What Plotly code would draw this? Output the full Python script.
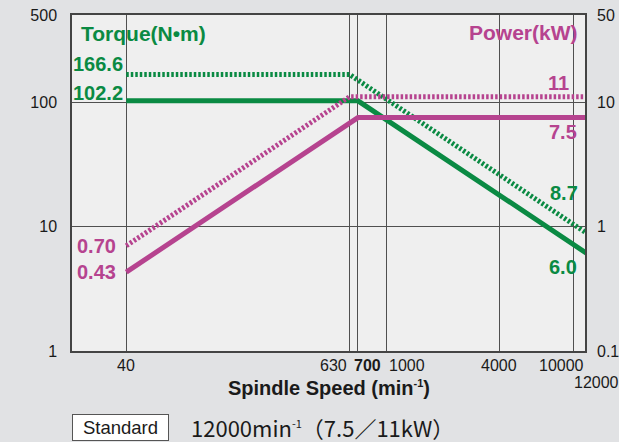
import math
import plotly.graph_objects as go

# ---- data ----
speed_torque_cont = [40, 700, 12000]
torque_cont = [102.2, 102.2, 6.0]
speed_torque_max = [40, 630, 12000]
torque_max = [166.6, 166.6, 8.7]

speed_power_cont = [40, 700, 12000]
power_cont = [0.43, 7.5, 7.5]
speed_power_max = [40, 630, 12000]
power_max = [0.70, 11, 11]

x_grid = [40, 630, 700, 1000, 4000, 10000]
y_ticks = [1, 10, 100, 500]
y2_ticks = [0.1, 1, 10, 50]

GREEN = "#0a8a43"
MAGENTA = "#b6438f"
GRID = "#505050"
FONT = "Liberation Sans"
DOT = "2.5px,2px"

fig = go.Figure()

fig.add_trace(go.Scatter(x=speed_power_max, y=power_max, yaxis="y2", mode="lines",
                         line=dict(color=MAGENTA, width=5, dash=DOT)))
fig.add_trace(go.Scatter(x=speed_power_cont, y=power_cont, yaxis="y2", mode="lines",
                         line=dict(color=MAGENTA, width=5)))
fig.add_trace(go.Scatter(x=speed_torque_max, y=torque_max, mode="lines",
                         line=dict(color=GREEN, width=5, dash=DOT)))
fig.add_trace(go.Scatter(x=speed_torque_cont, y=torque_cont, mode="lines",
                         line=dict(color=GREEN, width=5)))

ann = []
L = math.log10


def lab(text, x, y, xref, yref, xanchor, xshift, yshift, color, size=19, bold=True, family=FONT):
    t = f"<b>{text}</b>" if bold else text
    ann.append(dict(text=t, x=x, y=y, xref=xref, yref=yref, xanchor=xanchor, yanchor="middle",
                    xshift=xshift, yshift=yshift, showarrow=False,
                    font=dict(color=color, size=size, family=family)))


# value labels
lab("166.6", L(40), L(torque_max[0]), "x", "y", "right", -1, 10, GREEN, size=20)
lab("102.2", L(40), L(torque_cont[0]), "x", "y", "right", -1, 8, GREEN, size=20)
lab("0.70", L(40), L(power_max[0]), "x", "y2", "right", -8, 0, MAGENTA, size=20)
lab("0.43", L(40), L(power_cont[0]), "x", "y2", "right", -8, 0, MAGENTA, size=20)
lab("11", 1, L(power_max[-1]), "paper", "y2", "right", -14, 14, MAGENTA, size=20)
lab("7.5", 1, L(power_cont[-1]), "paper", "y2", "right", -6, -14, MAGENTA, size=20)
lab("8.7", 1, L(torque_max[-1]), "paper", "y", "right", -5, 41, GREEN, size=20)
lab("6.0", 1, L(torque_cont[-1]), "paper", "y", "right", -6, -13, GREEN, size=20)

# titles inside plot
lab("Torque(N•m)", 0, 0.946, "paper", "paper", "left", 7, 0, GREEN, size=21)
lab("Power(kW)", 1, 0.949, "paper", "paper", "right", -5, 0, MAGENTA, size=21)

# x tick labels
xt = [("40", L(40), "x", "center", 0, -14, False),
      ("630", L(630), "x", "right", 0, -14, False),
      ("700", L(700), "x", "left", -6, -14, True),
      ("1000", L(1000), "x", "left", 0, -14, False),
      ("4000", L(4000), "x", "center", 0, -14, False),
      ("10000", L(10000), "x", "center", -12, -14, False),
      ("12000", 1, "paper", "center", 11, -31, False)]
for t, v, xr, xa, xs, ys, b in xt:
    lab(t, v, 0, xr, "paper", xa, xs, ys, "#1a1a1a", size=16, bold=b)

SUP = "<sup><span style='font-size:11px'>-1</span></sup>"

# axis title
lab(f"Spindle Speed (min{SUP})", 0.5, 0, "paper", "paper", "center", 0, -37, "#1a1a1a", size=20)

# bottom caption
ann.append(dict(text="Standard", x=0.0945, y=-0.2277, xref="paper", yref="paper",
                xanchor="center", yanchor="middle", showarrow=False,
                font=dict(size=18.5, color="#1a1a1a", family=FONT),
                bgcolor="white", bordercolor="#555", borderwidth=1,
                width=93, height=23))
lab(f"12000min{SUP}（7.5／11kW）", 0.2305, -0.2300, "paper", "paper", "left", -1, 1,
    "#1a1a1a", size=22, bold=False, family="Noto Sans CJK JP")

fig.update_layout(
    width=619, height=442,
    margin=dict(l=72, r=34, t=15, b=91, autoexpand=False),
    paper_bgcolor="#e1e2e4",
    plot_bgcolor="#efefef",
    showlegend=False,
    annotations=ann,
    xaxis=dict(type="log", range=[1.3109, 4.0632], tickvals=x_grid, showticklabels=False,
               showgrid=True, gridcolor=GRID, gridwidth=1, zeroline=False, automargin=False,
               showline=True, linecolor="#444", linewidth=1.5, mirror=True, ticks=""),
    yaxis=dict(type="log", range=[0, L(500)], tickvals=y_ticks, ticktext=[str(v) for v in y_ticks],
               showgrid=True, gridcolor=GRID, gridwidth=1, zeroline=False, automargin=False,
               showline=True, linecolor="#444", linewidth=1.5, mirror=True, ticks="",
               ticklabelstandoff=10,
               tickfont=dict(size=16, color="#1a1a1a", family=FONT)),
    yaxis2=dict(type="log", range=[-1, L(50)], overlaying="y", side="right",
                tickvals=y2_ticks, ticktext=["0.1", "1", "10", "50"], showgrid=False,
                zeroline=False, ticks="", ticklabelstandoff=11, automargin=False,
                tickfont=dict(size=16, color="#1a1a1a", family=FONT)),
)

fig.write_html("out.html", config={"displayModeBar": False},
               post_script="document.body.style.margin='0';document.body.style.padding='0';"
                           "document.body.style.overflow='hidden';"
                           "document.documentElement.style.overflow='hidden';")
